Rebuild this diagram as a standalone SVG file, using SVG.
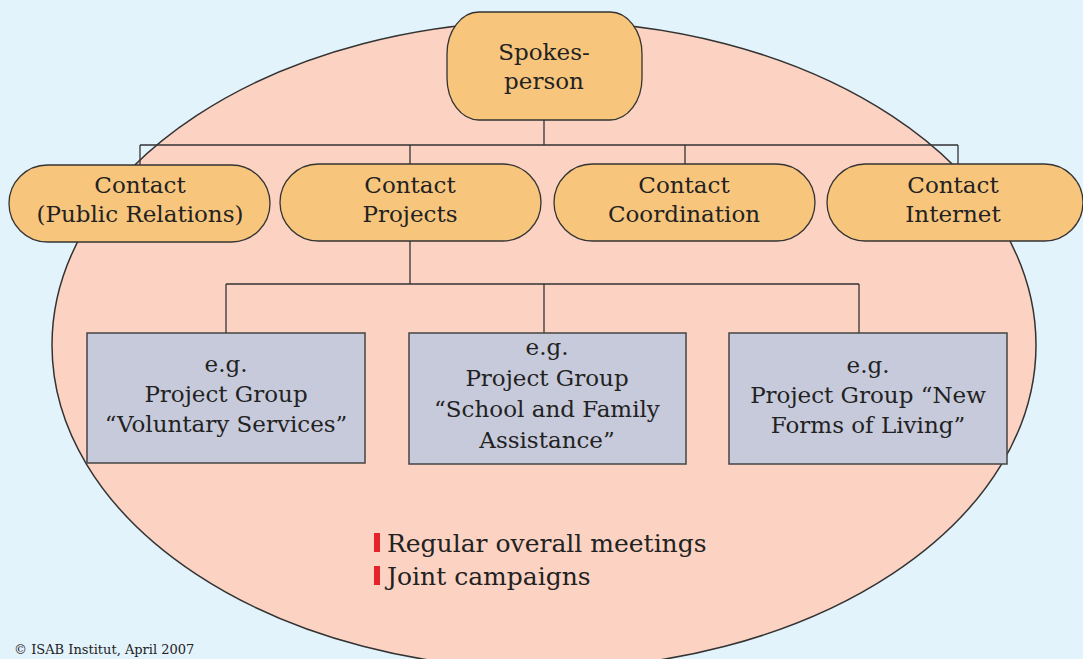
<svg xmlns="http://www.w3.org/2000/svg" width="1083" height="659" viewBox="0 0 1083 659">
<style>
text{font-family:"DejaVu Serif","Liberation Serif",serif;fill:#222;text-anchor:middle;font-size:23px}
.pill{fill:#f8c57c;stroke:#333;stroke-width:1.3}
.box{fill:#c7cadb;stroke:#444;stroke-width:1.5}
.conn{fill:none;stroke:#333;stroke-width:1.3}
.list{text-anchor:start;font-size:25px}
.bar{fill:#e5232a}
</style>
<rect width="1083" height="659" fill="#e3f3fc"/>
<ellipse id="team" cx="544" cy="345" rx="492" ry="324" fill="#fcd3c2" stroke="#333" stroke-width="1.5"/>
<g id="connectors">
<path class="conn" d="M544 120V145M140 145H958M140 145V165M410 145V164M685 145V164M958 145V164"/>
<path class="conn" d="M410 241V284M226 284H859M226 284V333M544 284V333M859 284V333"/>
</g>
<g id="spokesperson"><rect class="pill" x="447" y="12" width="195" height="108" rx="32" ry="42"/>
<text x="544" y="60">Spokes-</text><text x="544" y="89">person</text></g>
<g id="contact-pr"><rect class="pill" x="9" y="165" width="261" height="77" rx="38.5"/>
<text x="140" y="193">Contact</text><text x="140" y="222">(Public Relations)</text></g>
<g id="contact-projects"><rect class="pill" x="280" y="164" width="261" height="77" rx="38.5"/>
<text x="410" y="193">Contact</text><text x="410" y="222">Projects</text></g>
<g id="contact-coordination"><rect class="pill" x="554" y="164" width="261" height="77" rx="38.5"/>
<text x="684" y="193">Contact</text><text x="684" y="222">Coordination</text></g>
<g id="contact-internet"><rect class="pill" x="827" y="164" width="256" height="77" rx="38.5"/>
<text x="953" y="193">Contact</text><text x="953" y="222">Internet</text></g>
<g id="pg-voluntary"><rect class="box" x="87" y="333" width="278" height="130"/>
<text x="226" y="372">e.g.</text><text x="226" y="402">Project Group</text><text x="226" y="432">“Voluntary Services”</text></g>
<g id="pg-school"><rect class="box" x="409" y="333" width="277" height="131"/>
<text x="547" y="355">e.g.</text><text x="547" y="386">Project Group</text><text x="547" y="417">“School and Family</text><text x="547" y="448">Assistance”</text></g>
<g id="pg-living"><rect class="box" x="729" y="333" width="278" height="131"/>
<text x="868" y="373">e.g.</text><text x="868" y="403">Project Group “New</text><text x="868" y="433">Forms of Living”</text></g>
<g id="activities">
<rect class="bar" x="374" y="533" width="6" height="19"/>
<rect class="bar" x="374" y="566" width="6" height="19"/>
<text class="list" x="387" y="552">Regular overall meetings</text>
<text class="list" x="387" y="585">Joint campaigns</text>
</g>
<text x="14" y="654" style="text-anchor:start;font-size:13px">© ISAB Institut, April 2007</text>
</svg>
